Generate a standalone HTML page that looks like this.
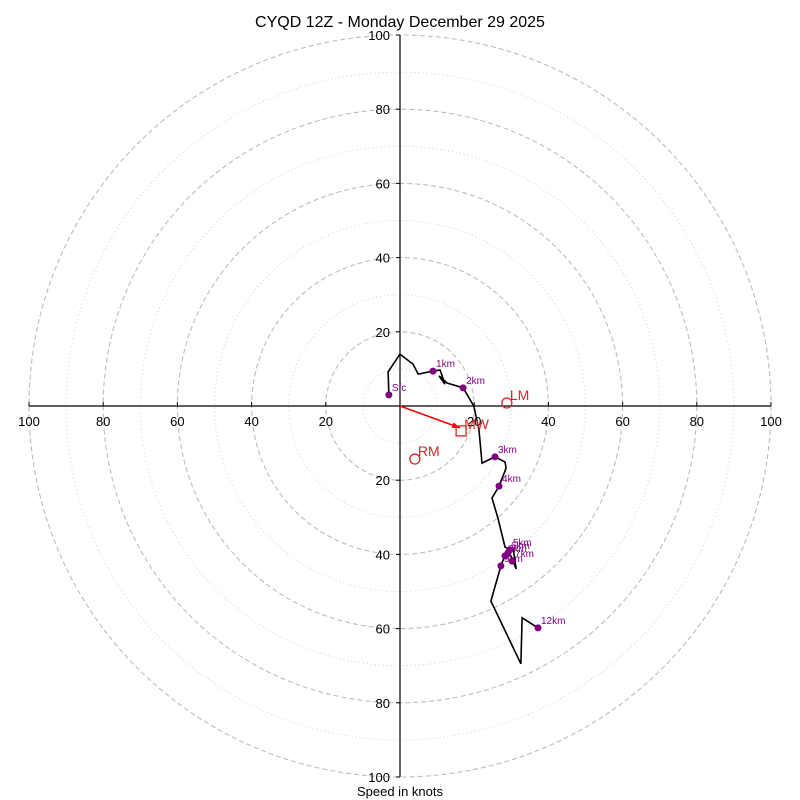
<!DOCTYPE html>
<html><head><meta charset="utf-8"><style>
html,body{margin:0;padding:0;background:#fff;}
svg{display:block;font-family:"Liberation Sans","DejaVu Sans",sans-serif;}
</style></head><body>
<svg id="chart" width="800" height="800" viewBox="0 0 800 800">
<text x="400" y="27" text-anchor="middle" font-size="16">CYQD 12Z - Monday December 29 2025</text>
<text x="400" y="796" text-anchor="middle" font-size="13">Speed in knots</text>
<g id="rings"></g><g id="axes"></g><g id="trace"></g><g id="marks"></g>
</svg>
<script>
const ringSpeeds = [10,20,30,40,50,60,70,80,90,100];
const tickLabels = [20,40,60,80,100];
const traceU = [-3.0,-3.2,0,3.5,4.9,8.9,10.8,12.1,10.5,12.7,17.0,19.9,21.3,22.1,25.6,28.3,28.6,26.7,24.8,26.4,28.3,29.1,30.5,31.3,29.9,28.3,27.2,24.5,32.6,32.9,37.2];
const traceV = [3.0,9.2,14.0,11.3,8.6,9.4,9.7,5.9,8.1,6.2,4.9,0,-6.5,-15.4,-13.7,-15.1,-16.7,-21.6,-24.8,-30.2,-38.0,-38.5,-38.3,-43.9,-40.4,-40.2,-43.1,-52.6,-69.5,-57.1,-59.8];
const markerLabels = ["Sfc","1km","2km","3km","4km","5km","6km","7km","8km","9km","12km"];
const markerU = [-3.0,8.9,17.0,25.6,26.7,29.6,29.1,30.2,28.3,27.2,37.2];
const markerV = [3.0,9.4,4.9,-13.7,-21.6,-38.8,-39.6,-41.8,-40.4,-43.1,-59.8];
const stormNames = ["MW","LM","RM"];
const stormU = [16.2,28.8,4.0];
const stormV = [-5.9,0.8,-14.3];

const CX=400, CY=406, K=3.71;
const sx=u=>CX+u*K, sy=v=>CY-v*K;
const NS="http://www.w3.org/2000/svg";
function mk(tag,parent,attrs){const e=document.createElementNS(NS,tag);for(const k in attrs)e.setAttribute(k,attrs[k]);parent.appendChild(e);return e;}
const rings=document.getElementById('rings'),axes=document.getElementById('axes'),trace=document.getElementById('trace'),marks=document.getElementById('marks');

ringSpeeds.forEach(s=>{
  const major=s%20===0;
  const c=mk('circle',rings,{cx:CX,cy:CY,r:s*K,fill:'none',stroke:major?'#bdbdbd':'#d0d0d0','stroke-width':major?1.1:1,'stroke-dasharray':major?'5,3':'1,3'});
  
  
});
let l=mk('line',axes,{x1:sx(-100),y1:CY,x2:sx(100),y2:CY,stroke:'#000','stroke-width':1.2});


l=mk('line',axes,{x1:CX,y1:sy(100),x2:CX,y2:sy(-100),stroke:'#000','stroke-width':1.2});


tickLabels.forEach(t=>{
  [-1,1].forEach(sg=>{
    const x=sx(sg*t);
    mk('line',axes,{x1:x,y1:CY,x2:x,y2:CY-4,stroke:'#000'});
    const tx=mk('text',axes,{x:x,y:CY+20,'text-anchor':'middle','font-size':13});
    tx.textContent=t;
    
    
    const y=sy(sg*t);
    mk('line',axes,{x1:CX,y1:y,x2:CX-4,y2:y,stroke:'#000'});
    const ty=mk('text',axes,{x:CX-10,y:y+5,'text-anchor':'end','font-size':13});
    ty.textContent=t;
    
    
  });
});
const pts=traceU.map((u,i)=>sx(u).toFixed(1)+','+sy(traceV[i]).toFixed(1)).join(' ');
const pl=mk('polyline',trace,{points:pts,fill:'none',stroke:'#000','stroke-width':1.6,'stroke-linejoin':'miter'});


markerLabels.forEach((lab,i)=>{
  const x=sx(markerU[i]),y=sy(markerV[i]);
  const c=mk('circle',marks,{cx:x,cy:y,r:3.5,fill:'#800080'});
  
  
  const t=mk('text',marks,{x:x+3,y:y-4,'font-size':10,fill:'#800080'});
  t.textContent=lab;
  
  
});
// storm motion
const mwx=sx(stormU[0]),mwy=sy(stormV[0]);
const ar=mk('line',marks,{x1:CX,y1:CY,x2:mwx,y2:mwy,stroke:'#ff0000','stroke-width':1.6});


const ang=Math.atan2(mwy-CY,mwx-CX);
const hp=[[mwx,mwy],[mwx-8*Math.cos(ang)+3*Math.sin(ang),mwy-8*Math.sin(ang)-3*Math.cos(ang)],[mwx-8*Math.cos(ang)-3*Math.sin(ang),mwy-8*Math.sin(ang)+3*Math.cos(ang)]];
mk('polygon',marks,{points:hp.map(p=>p.join(',')).join(' '),fill:'#ff0000'});
stormNames.forEach((n,i)=>{
  const x=sx(stormU[i]),y=sy(stormV[i]);
  let m;
  if(n==='MW'){m=mk('rect',marks,{x:x-4,y:y-2,width:10,height:10,fill:'none',stroke:'#d62728','stroke-width':1.3});}
  else{m=mk('circle',marks,{cx:x,cy:y,r:5,fill:'none',stroke:'#d62728','stroke-width':1.3});}
  
  
  const t=mk('text',marks,{x:n==='MW'?x+4:x+3,y:n==='MW'?y+1:y-3,'font-size':14,fill:'#d62728'});
  t.textContent=n;
  
  
});
</script>
</body></html>
